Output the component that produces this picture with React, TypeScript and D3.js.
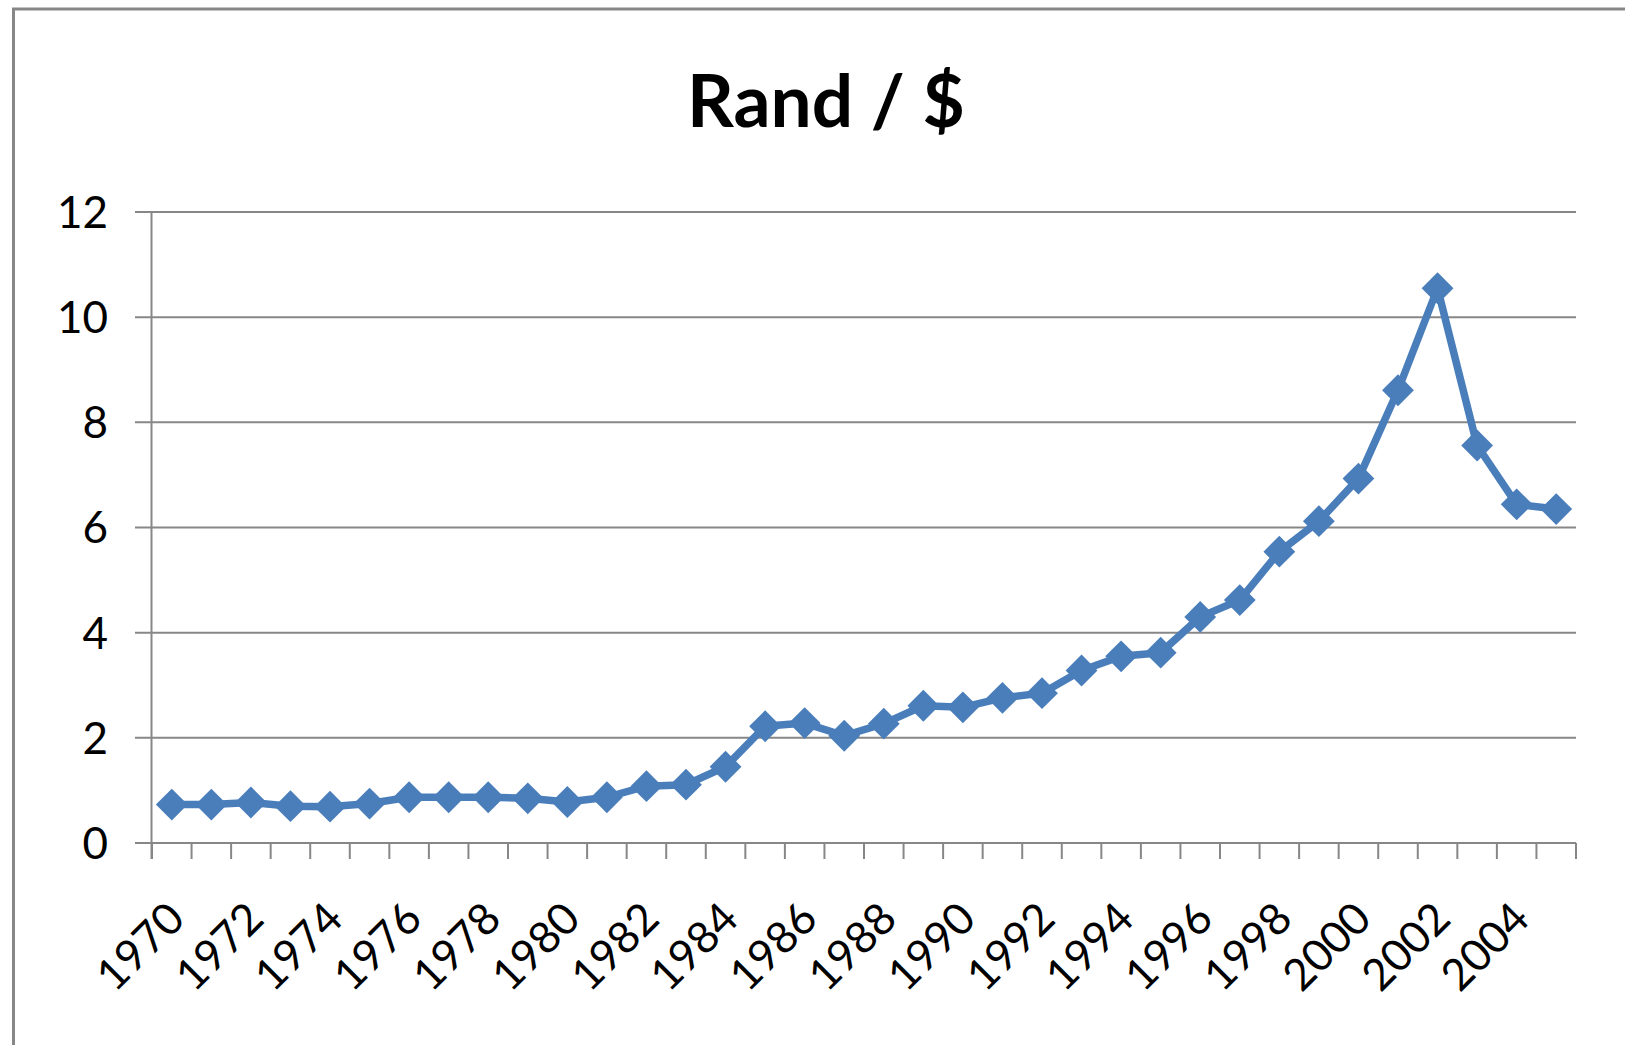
import * as d3 from "d3";

const years = d3.range(1970, 2006).map(String);
const randPerDollar = [
  0.73, 0.73, 0.77, 0.7, 0.69, 0.75, 0.87, 0.87, 0.87, 0.85, 0.78, 0.87, 1.08, 1.11, 1.45, 2.22, 2.28, 2.04,
  2.27, 2.61, 2.58, 2.76, 2.85, 3.28, 3.55, 3.62, 4.3, 4.62, 5.54, 6.12, 6.93, 8.61, 10.55, 7.56, 6.44, 6.35,
];
const yTicks = [0, 2, 4, 6, 8, 10, 12];

const WIDTH = 1625;
const HEIGHT = 1045;
const PLOT = { left: 152, right: 1576, top: 212, bottom: 843 };
const GRID = "#878787";
const BLUE = "#4a7ebb";
const FONT = "Lato, 'Open Sans', sans-serif";

type Point = { year: string; value: number };

export default function App() {
  const data: Point[] = years.map((year, i) => ({ year, value: randPerDollar[i] }));
  const x = d3.scaleBand<string>().domain(years).range([PLOT.left, PLOT.right]);
  const y = d3.scaleLinear().domain([0, 12]).range([PLOT.bottom, PLOT.top]);
  const cx = (year: string) => (x(year) ?? 0) + x.bandwidth() / 2;
  const line = d3
    .line<Point>()
    .x((d) => cx(d.year))
    .y((d) => y(d.value));
  const diamond = d3.symbol(d3.symbolSquare, 506)();
  const boundaries = years.map((year) => x(year) ?? 0).concat(PLOT.right);

  return (
    <svg
      width={WIDTH}
      height={HEIGHT}
      viewBox={`0 0 ${WIDTH} ${HEIGHT}`}
      style={{ position: "absolute", left: 0, top: 0, background: "#fff" }}
    >
      <rect x="0" y="0" width={WIDTH} height={HEIGHT} fill="#fff" />
      {/* chart frame, runs off the picture at right and bottom */}
      <rect x="13.5" y="9" width={WIDTH + 40} height={HEIGHT + 40} fill="none" stroke={GRID} strokeWidth="3" />

      <text
        x="826"
        y="127"
        textAnchor="middle"
        fontFamily={FONT}
        fontWeight="700"
        fontSize="73"
        fill="#000"
      >
        Rand / $
      </text>

      {yTicks.map((t) => (
        <g key={t}>
          <line x1={PLOT.left - 17} x2={PLOT.right} y1={y(t)} y2={y(t)} stroke={GRID} strokeWidth="2" />
          <text
            x="108"
            y={y(t)}
            dy="0.36em"
            textAnchor="end"
            fontFamily={FONT}
            fontSize="44"
            fill="#000"
          >
            {t}
          </text>
        </g>
      ))}
      <line x1={PLOT.left - 0.5} x2={PLOT.left - 0.5} y1={PLOT.top} y2={PLOT.bottom + 16} stroke={GRID} strokeWidth="2" />
      {boundaries.map((bx, i) => (
        <line key={i} x1={bx} x2={bx} y1={PLOT.bottom} y2={PLOT.bottom + 16} stroke={GRID} strokeWidth="2" />
      ))}

      {years
        .filter((_, i) => i % 2 === 0)
        .map((year) => (
          <text
            key={year}
            transform={`translate(${cx(year) + 4} 910) rotate(-45)`}
            dy="0.36em"
            textAnchor="end"
            fontFamily={FONT}
            fontSize="44"
            fill="#000"
          >
            {year}
          </text>
        ))}

      <path d={line(data) ?? undefined} fill="none" stroke={BLUE} strokeWidth="7.5" strokeLinejoin="round" />
      {data.map((d) => (
        <path
          key={d.year}
          d={diamond ?? undefined}
          transform={`translate(${cx(d.year)} ${y(d.value)}) rotate(45)`}
          fill={BLUE}
        />
      ))}
    </svg>
  );
}
